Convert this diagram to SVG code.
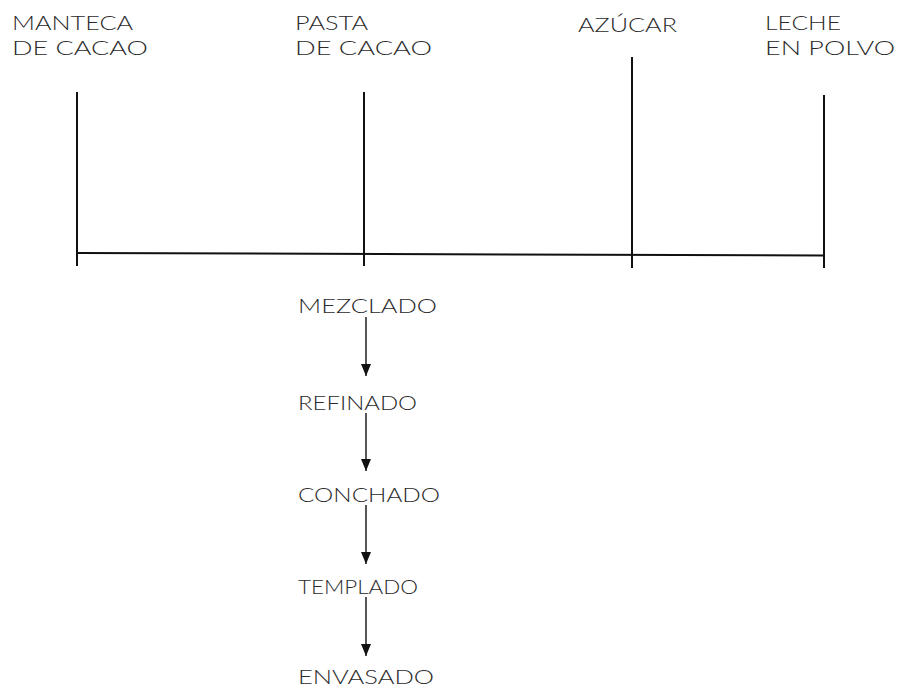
<svg xmlns="http://www.w3.org/2000/svg" width="897" height="692" viewBox="0 0 897 692">
  <style>
    text { font-family: Lato, "Liberation Sans", sans-serif; font-weight: 300; font-size: 20.5px; fill: #2a2a2a; }
    .ln { stroke: #111; stroke-width: 2; fill: none; }
    .arr { stroke: #111; stroke-width: 1.4; fill: none; marker-end: url(#head); }
  </style>
  <defs>
    <marker id="head" viewBox="0 0 12 10" refX="12" refY="5" markerWidth="12" markerHeight="10" markerUnits="userSpaceOnUse" orient="auto">
      <path d="M0,0 L12,5 L0,10 Z" fill="#111"/>
    </marker>
  </defs>
  <rect width="897" height="692" fill="#fff"/>

  <!-- ingredients -->
  <g id="manteca">
    <text x="12" y="30" textLength="121" lengthAdjust="spacingAndGlyphs">MANTECA</text>
    <text x="12" y="55" textLength="136" lengthAdjust="spacingAndGlyphs">DE CACAO</text>
  </g>
  <g id="pasta">
    <text x="295" y="30" textLength="73" lengthAdjust="spacingAndGlyphs">PASTA</text>
    <text x="295" y="55" textLength="137" lengthAdjust="spacingAndGlyphs">DE CACAO</text>
  </g>
  <g id="azucar">
    <text x="578" y="32" textLength="99" lengthAdjust="spacingAndGlyphs">AZÚCAR</text>
  </g>
  <g id="leche">
    <text x="765" y="30" textLength="76" lengthAdjust="spacingAndGlyphs">LECHE</text>
    <text x="765" y="55" textLength="130" lengthAdjust="spacingAndGlyphs">EN POLVO</text>
  </g>

  <!-- process steps -->
  <g id="mezclado"><text x="298" y="313" textLength="139" lengthAdjust="spacingAndGlyphs">MEZCLADO</text></g>
  <g id="refinado"><text x="298" y="410" textLength="119" lengthAdjust="spacingAndGlyphs">REFINADO</text></g>
  <g id="conchado"><text x="298" y="502" textLength="142" lengthAdjust="spacingAndGlyphs">CONCHADO</text></g>
  <g id="templado"><text x="298" y="594" textLength="120" lengthAdjust="spacingAndGlyphs">TEMPLADO</text></g>
  <g id="envasado"><text x="298" y="684" textLength="136" lengthAdjust="spacingAndGlyphs">ENVASADO</text></g>

  <!-- connectors -->
  <g id="connectors">
    <line class="ln" x1="77" y1="92" x2="77" y2="266"/>
    <line class="ln" x1="364" y1="92" x2="364" y2="266"/>
    <line class="ln" x1="632" y1="57" x2="632" y2="268"/>
    <line class="ln" x1="824" y1="95" x2="824" y2="268"/>
    <line class="ln" x1="77" y1="253" x2="824" y2="255.5"/>
    <line class="arr" x1="366" y1="317" x2="366" y2="376"/>
    <line class="arr" x1="366" y1="413" x2="366" y2="471"/>
    <line class="arr" x1="366" y1="505" x2="366" y2="564"/>
    <line class="arr" x1="366" y1="597" x2="366" y2="656"/>
  </g>
</svg>
